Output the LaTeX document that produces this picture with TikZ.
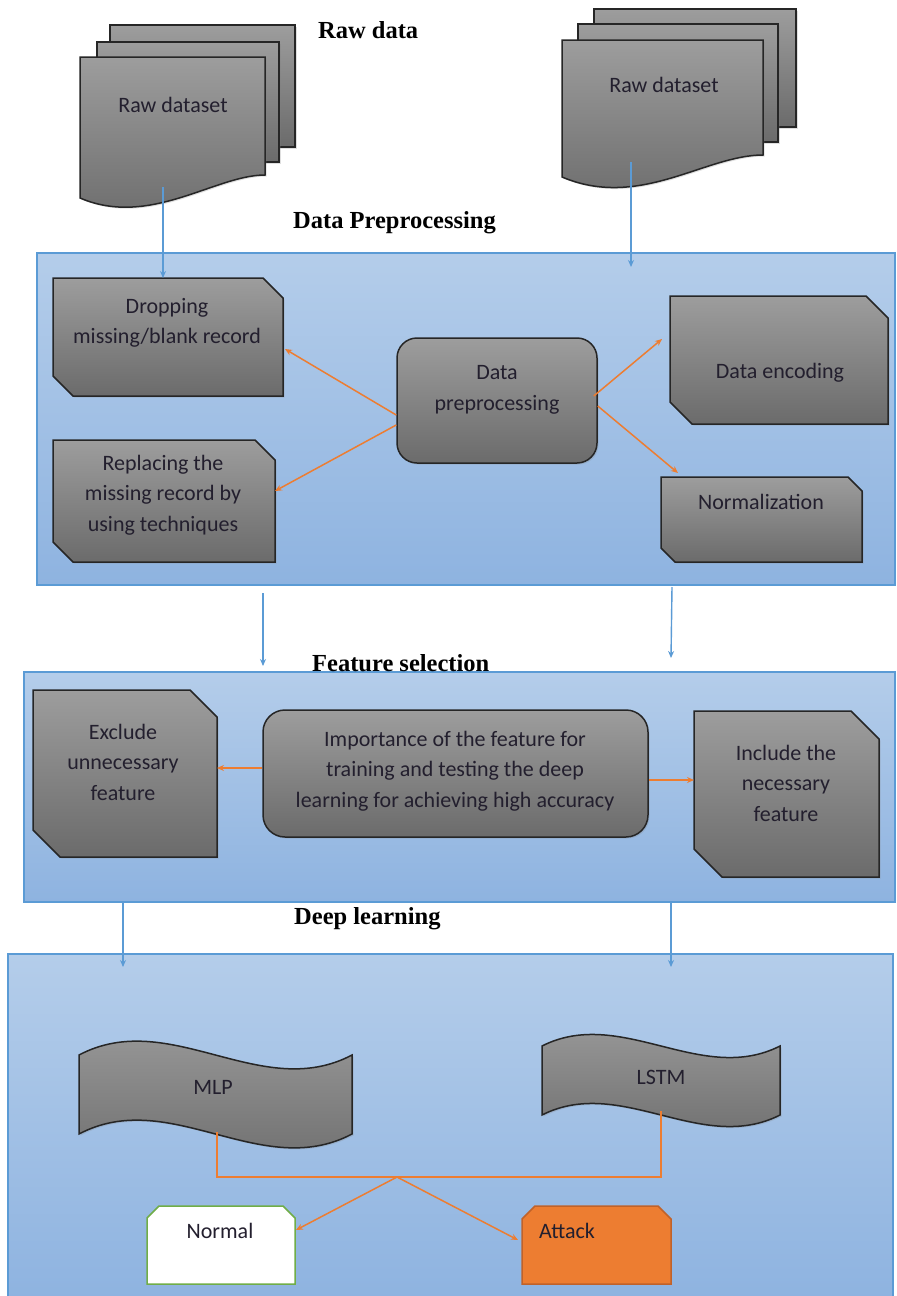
\documentclass[tikz,border=0pt]{standalone}
\usepackage{fontspec}
\setmainfont{Carlito}
\newfontfamily\titlefont{Liberation Serif}
\usetikzlibrary{arrows.meta,shadows,calc}
\definecolor{gtop}{HTML}{9D9D9D}
\definecolor{gbot}{HTML}{6B6B6B}
\definecolor{bord}{HTML}{262626}
\definecolor{ctop}{HTML}{B4CDEA}
\definecolor{cbot}{HTML}{8EB3E0}
\definecolor{cbord}{HTML}{5B9BD5}
\definecolor{barc}{HTML}{5B9BD5}
\definecolor{oc}{HTML}{ED7D31}
\definecolor{obord}{HTML}{C0622A}
\definecolor{ngreen}{HTML}{70AD47}
\definecolor{tcol}{HTML}{231F2E}
\newcommand{\chamA}[7]{%
  \path[#1] (#3,#4) -- ({#5-#7},#4) -- (#5,{#4+#7}) -- (#5,#6) -- ({#3+#7},#6) -- (#3,{#6-#7}) -- cycle;
  \node[hid, minimum width={#5pt-#3pt}, minimum height={#6pt-#4pt}] (#2) at ({(#3+#5)/2},{(#4+#6)/2}) {};}
\newcommand{\chamT}[7]{%
  \path[#1] (#3,{#4+#7}) -- ({#3+#7},#4) -- ({#5-#7},#4) -- (#5,{#4+#7}) -- (#5,#6) -- (#3,#6) -- cycle;
  \node[hid, minimum width={#5pt-#3pt}, minimum height={#6pt-#4pt}] (#2) at ({(#3+#5)/2},{(#4+#6)/2}) {};}
\begin{document}
\begin{tikzpicture}[x=1pt,y=-1pt,
  hid/.style={inner sep=0pt, outer sep=0pt},
  graybox/.style={draw=bord, line width=1.5pt, top color=gtop, bottom color=gbot,
    drop shadow={shadow xshift=1.5pt, shadow yshift=-1.5pt, opacity=.25}},
  container/.style={draw=cbord, line width=1.5pt, top color=ctop, bottom color=cbot},
  barrow/.style={draw=barc, line width=1.4pt, -{Stealth[length=7pt,width=6pt]}},
  oarrow/.style={draw=oc, line width=1.5pt, -{Stealth[length=7pt,width=6pt]}},
  oline/.style={draw=oc, line width=1.5pt},
  txt/.style={text=tcol, align=center, font=\fontsize{22}{30.5}\selectfont, inner sep=0pt},
  ttl/.style={text=black, font=\titlefont\bfseries\fontsize{24.5}{28}\selectfont, inner sep=0pt, anchor=base west},
  normbox/.style={draw=ngreen, line width=1.5pt, fill=white},
  attbox/.style={draw=obord, line width=1.5pt, fill=oc}
]
\useasboundingbox (0,0) rectangle (897,1296);
\clip (0,0) rectangle (897,1296);
\fill[white] (0,0) rectangle (897,1296);

% ---------- titles ----------
\node[ttl] (t1) at (318,38) {Raw data};
\node[ttl] (t2) at (293,228) {Data Preprocessing};

% ---------- raw dataset stacks ----------
\path[graybox] (110,25) rectangle (295,147);
\path[graybox] (97,42) rectangle (279,162);
\path[graybox] (80,57) -- (265,57) -- (265,175) .. controls (215,175) and (150,228) .. (80,198) -- cycle;
\node[txt] (raw1) at (173,105) {Raw dataset};

\path[graybox] (594,9) rectangle (796,127);
\path[graybox] (578,24) rectangle (778,142);
\path[graybox] (562,40) -- (763,40) -- (763,155) .. controls (705,155) and (640,210) .. (562,177) -- cycle;
\node[txt] (raw2) at (664,85) {Raw dataset};

% ---------- preprocessing container ----------
\node[container, minimum width=858pt, minimum height=332pt] (prep) at (466,419) {};

\chamA{graybox}{drop}{53}{278}{283}{396}{20}
\node[txt] (dropT) at (167,323) {Dropping\\missing/blank record};
\chamA{graybox}{repl}{53}{440}{275}{562}{20}
\node[txt] (replT) at (163,495) {Replacing the\\missing record by\\using techniques};
\node[graybox, rounded corners=20pt, minimum width=200pt, minimum height=125pt] (dp) at (497,400.5) {};
\node[txt] (dpT) at (497,390) {Data\\preprocessing};
\chamA{graybox}{enc}{670}{296}{888}{424}{22}
\node[txt] (encT) at (780,373) {Data encoding};
\chamA{graybox}{norm}{661}{477}{862}{562}{14}
\node[txt] (normT) at (761,502) {Normalization};

\coordinate (r1s) at (163,187);
\coordinate (r2s) at (631,162);
\coordinate (r2e) at (631,267);
\draw[barrow] (r1s) -- (r1s |- drop.north);
\draw[barrow] (r2s) -- (r2e);

\draw[oarrow] ([yshift=-14.5pt]dp.west) -- ([xshift=2pt,yshift=-12pt]drop.east);
\draw[oarrow] ([yshift=-24.5pt]dp.west) -- ([yshift=10pt]repl.east);
\draw[oarrow] ([xshift=-4pt,yshift=4.5pt]dp.east) -- ([xshift=-8pt,yshift=21pt]enc.west);
\draw[oarrow] ([yshift=-5.5pt]dp.east) -- ([xshift=17pt,yshift=4pt]norm.north west);

% ---------- feature selection ----------
\coordinate (f1s) at (263,593);
\coordinate (f1e) at (263,666);
\coordinate (f2s) at (672,587);
\coordinate (f2e) at (671,658);
\draw[barrow] (f1s) -- (f1e);
\draw[barrow] (f2s) -- (f2e);

\node[container, minimum width=871pt, minimum height=230pt] (feat) at (459.5,787) {};
\node[ttl] (t3) at (312,671) {Feature selection};

\chamA{graybox}{excl}{33}{690}{217}{857}{27}
\node[txt] (exclT) at (123,762) {Exclude\\unnecessary\\feature};
\node[graybox, rounded corners=22pt, minimum width=385pt, minimum height=127pt] (imp) at (455.5,773.5) {};
\node[txt] (impT) at (455,771) {Importance of the feature for\\training and testing the deep\\learning for achieving high accuracy};
\chamA{graybox}{incl}{694}{711}{879}{877}{28}
\node[txt] (inclT) at (786,783) {Include the\\necessary\\feature};

\draw[oarrow] ([yshift=5.5pt]imp.west) -- ([yshift=5.5pt]excl.east);
\draw[oarrow] ([yshift=-6.5pt]imp.east) -- ([yshift=14pt]incl.west);

% ---------- deep learning ----------
\node[ttl] (t4) at (294,924) {Deep learning};
\node[container, minimum width=885pt, minimum height=346pt] (deep) at (450.5,1127) {};

\coordinate (d1s) at (123,902);
\coordinate (d1e) at (123,967);
\coordinate (d2s) at (671,902);
\coordinate (d2e) at (671,967);
\draw[barrow] (d1s) -- (d1e);
\draw[barrow] (d2s) -- (d2e);

\path[graybox] (79,1055) .. controls (170,1007) and (261,1103) .. (352,1055) -- (352,1134)
   .. controls (261,1182) and (170,1086) .. (79,1134) -- cycle;
\node[txt] (mlp) at (213,1087) {MLP};
\path[graybox] (542,1046) .. controls (621,1006) and (701,1086) .. (780,1046) -- (780,1115)
   .. controls (701,1155) and (621,1075) .. (542,1115) -- cycle;
\node[txt] (lstm) at (661,1077) {LSTM};

\chamT{normbox}{normal}{147}{1206}{295}{1284}{12}
\node[txt] (normalT) at (220,1231) {Normal};
\chamT{attbox}{attack}{522}{1206}{671}{1284}{13}
\node[txt] (attackT) at (567,1231) {Attack};

\coordinate (mb) at (217,1132);
\coordinate (lb) at (661,1111);
\coordinate (jn) at (397,1177);
\draw[oline] (mb) |- (jn) -| (lb);
\draw[oarrow] (jn) -- ([xshift=1pt,yshift=15pt]normal.east);
\draw[oarrow] (jn) -- ([xshift=-4pt,yshift=5pt]attack.west);
\end{tikzpicture}
\end{document}
